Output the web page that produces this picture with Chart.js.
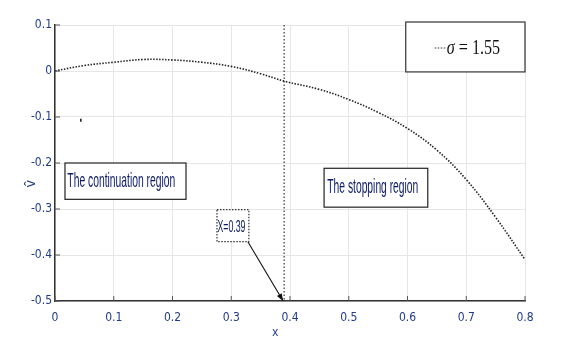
<!DOCTYPE html>
<html>
<head>
<meta charset="utf-8">
<script src="https://cdn.jsdelivr.net/npm/chart.js@4/dist/chart.umd.min.js"></script>
<style>
  html, body { margin: 0; padding: 0; background: #fff; }
  #wrap { width: 568px; height: 354px; position: relative; }
</style>
</head>
<body>
<div id="wrap"><canvas id="chart"></canvas></div>
<script>
// values
var xValues = [0, 0.05, 0.1, 0.15, 0.2, 0.25, 0.3, 0.35, 0.39, 0.45, 0.5, 0.55, 0.6, 0.65, 0.7, 0.75, 0.8];
var vValues = [0, 0.012, 0.019, 0.025, 0.024, 0.019, 0.010, -0.006, -0.022, -0.040, -0.062, -0.090, -0.125, -0.172, -0.236, -0.318, -0.41];
var boundaryX = [0.39, 0.39];
var boundaryY = [0.1, -0.5];
var strayX = [0.044];
var strayY = [-0.107];
var xTicks = [0, 0.1, 0.2, 0.3, 0.4, 0.5, 0.6, 0.7, 0.8];
var yTicks = [0.1, 0, -0.1, -0.2, -0.3, -0.4, -0.5];
var legendSymbol = "σ";
var legendValue = " = 1.55";
var regionLabels = ["The continuation region", "The stopping region"];
var pointLabel = "X=0.39";

var tickColor = "#1f3a8a";
var textColor = "#0c1a66";
var narrow = "'Liberation Sans Narrow', 'DejaVu Sans Condensed', 'Liberation Sans', sans-serif";

function pairs(xs, ys) {
  return xs.map(function (x, i) { return { x: x, y: ys[i] }; });
}

function fmt(v) {
  var s = parseFloat(v.toFixed(1));
  return s === 0 ? "0" : String(s);
}

// draw squeezed text to a target width (the figure uses a condensed face)
function squeezeText(ctx, text, x, y, size, width, color, align) {
  ctx.save();
  ctx.font = size + "px 'Liberation Sans', Arial, sans-serif";
  var w = ctx.measureText(text).width;
  var k = width / w;
  ctx.fillStyle = color;
  ctx.textBaseline = "alphabetic";
  ctx.translate(align === "center" ? x - width / 2 : x, y);
  ctx.scale(k, 1);
  ctx.textAlign = "left";
  ctx.fillText(text, 0, 0);
  ctx.restore();
}

var decorations = {
  id: "decorations",
  afterDraw: function (chart) {
    var ctx = chart.ctx;
    var xs = chart.scales.x, ys = chart.scales.y;
    var area = chart.chartArea;
    var px = function (v) { return xs.getPixelForValue(v); };
    var py = function (v) { return ys.getPixelForValue(v); };

    // inner ticks (matlab style)
    ctx.save();
    ctx.strokeStyle = "#555";
    ctx.lineWidth = 1;
    xTicks.forEach(function (t) {
      ctx.beginPath();
      ctx.moveTo(px(t), area.bottom);
      ctx.lineTo(px(t), area.bottom - 5);
      ctx.stroke();
    });
    yTicks.forEach(function (t) {
      ctx.beginPath();
      ctx.moveTo(area.left, py(t));
      ctx.lineTo(area.left + 5, py(t));
      ctx.stroke();
    });
    ctx.restore();

    // legend box
    var lx0 = px(0.597), lx1 = px(0.8), ly0 = py(0.1065), ly1 = py(-0.002);
    ctx.save();
    ctx.fillStyle = "#fff";
    ctx.fillRect(lx0, ly0, lx1 - lx0, ly1 - ly0);
    ctx.strokeStyle = "#333";
    ctx.lineWidth = 1.2;
    ctx.strokeRect(lx0, ly0, lx1 - lx0, ly1 - ly0);
    ctx.setLineDash([1.5, 1.5]);
    ctx.strokeStyle = "#333";
    ctx.beginPath();
    ctx.moveTo(lx0 + 29, ly0 + 26);
    ctx.lineTo(lx0 + 40, ly0 + 26);
    ctx.stroke();
    ctx.setLineDash([]);
    ctx.restore();
    ctx.save();
    ctx.fillStyle = "#111";
    ctx.translate(lx0 + 41, ly0 + 32);
    ctx.scale(0.85, 1.1);
    ctx.font = "italic 19px 'Liberation Serif', 'DejaVu Serif', serif";
    ctx.fillText(legendSymbol, 0, 0);
    var sw = ctx.measureText(legendSymbol).width;
    ctx.font = "19px 'Liberation Serif', 'DejaVu Serif', serif";
    ctx.fillText(legendValue, sw, 0);
    ctx.restore();

    // region boxes
    var boxes = [
      { text: regionLabels[0], x0: 0.017, x1: 0.223, y0: -0.2, y1: -0.279, tx: 0.021, tw: 108, base: -0.2515 },
      { text: regionLabels[1], x0: 0.458, x1: 0.6345, y0: -0.2115, y1: -0.296, tx: 0.4635, tw: 91, base: -0.2655 }
    ];
    boxes.forEach(function (b) {
      ctx.save();
      ctx.fillStyle = "#fff";
      ctx.fillRect(px(b.x0), py(b.y0), px(b.x1) - px(b.x0), py(b.y1) - py(b.y0));
      ctx.strokeStyle = "#222";
      ctx.lineWidth = 1.2;
      ctx.strokeRect(px(b.x0), py(b.y0), px(b.x1) - px(b.x0), py(b.y1) - py(b.y0));
      ctx.restore();
      squeezeText(ctx, b.text, px(b.tx), py(b.base), 21, b.tw, textColor, "left");
    });

    // X=0.39 dotted box and arrow
    var bx0 = px(0.2757), bx1 = px(0.33), by0 = py(-0.3015), by1 = py(-0.371);
    ctx.save();
    ctx.fillStyle = "#fff";
    ctx.fillRect(bx0, by0, bx1 - bx0, by1 - by0);
    ctx.strokeStyle = "#333";
    ctx.lineWidth = 1.2;
    ctx.setLineDash([1.5, 1.5]);
    ctx.strokeRect(bx0, by0, bx1 - bx0, by1 - by0);
    ctx.setLineDash([]);
    ctx.restore();
    squeezeText(ctx, pointLabel, px(0.2765), py(-0.3495), 17, 28, textColor, "left");

    var ax0 = bx1 - 1, ay0 = by1, ax1 = px(0.39) - 1, ay1 = py(-0.5);
    var ang = Math.atan2(ay1 - ay0, ax1 - ax0);
    ctx.save();
    ctx.strokeStyle = "#111";
    ctx.fillStyle = "#111";
    ctx.lineWidth = 1.1;
    ctx.beginPath();
    ctx.moveTo(ax0, ay0);
    ctx.lineTo(ax1, ay1);
    ctx.stroke();
    ctx.beginPath();
    ctx.moveTo(ax1, ay1);
    ctx.lineTo(ax1 - 8 * Math.cos(ang - 0.35), ay1 - 8 * Math.sin(ang - 0.35));
    ctx.lineTo(ax1 - 8 * Math.cos(ang + 0.35), ay1 - 8 * Math.sin(ang + 0.35));
    ctx.closePath();
    ctx.fill();
    ctx.restore();

    // axis titles
    squeezeText(ctx, "x", px(0.375), area.bottom + 35, 13, 6, tickColor, "center");
    ctx.save();
    ctx.translate(area.left - 20, py(-0.245));
    ctx.rotate(-Math.PI / 2);
    ctx.font = "14px 'Liberation Sans', sans-serif";
    ctx.fillStyle = tickColor;
    ctx.textAlign = "center";
    ctx.fillText("v\u0302", 0, 0);
    ctx.restore();
  }
};

new Chart(document.getElementById("chart"), {
  type: "scatter",
  data: {
    datasets: [
      {
        label: legendSymbol + legendValue,
        data: pairs(xValues, vValues),
        showLine: true,
        borderColor: "#222",
        borderWidth: 1.6,
        borderDash: [1.5, 1.5],
        pointRadius: 0,
        tension: 0.4
      },
      {
        data: pairs(boundaryX, boundaryY),
        showLine: true,
        borderColor: "#222",
        borderWidth: 1.1,
        borderDash: [1.5, 2],
        pointRadius: 0
      },
      {
        data: pairs(strayX, strayY),
        pointStyle: "line",
        rotation: 90,
        pointRadius: 1.5,
        borderColor: "#111",
        borderWidth: 1.5
      }
    ]
  },
  options: {
    responsive: true,
    maintainAspectRatio: false,
    animation: false,
    layout: { padding: { top: 25, right: 43, left: 0, bottom: 0 } },
    plugins: { legend: { display: false }, tooltip: { enabled: false } },
    scales: {
      x: {
        type: "linear",
        min: 0,
        max: 0.8,
        afterFit: function (s) { s.height = 53; },
        afterBuildTicks: function (s) { s.ticks = xTicks.map(function (v) { return { value: v }; }); },
        grid: { color: "#e6e6e6", drawTicks: false },
        border: { color: "#333", width: 1.5 },
        ticks: {
          padding: 10,
          color: tickColor,
          font: { family: narrow, size: 12 },
          maxRotation: 0,
          callback: function (v) { return fmt(v); }
        }
      },
      y: {
        type: "linear",
        min: -0.5,
        max: 0.1,
        afterFit: function (s) { s.width = 55; },
        afterBuildTicks: function (s) { s.ticks = yTicks.map(function (v) { return { value: v }; }); },
        grid: { color: "#e6e6e6", drawTicks: false },
        border: { color: "#333", width: 1.5 },
        ticks: {
          padding: 3,
          color: tickColor,
          font: { family: narrow, size: 12 },
          callback: function (v) { return fmt(v); }
        }
      }
    }
  },
  plugins: [decorations]
});
</script>
</body>
</html>
